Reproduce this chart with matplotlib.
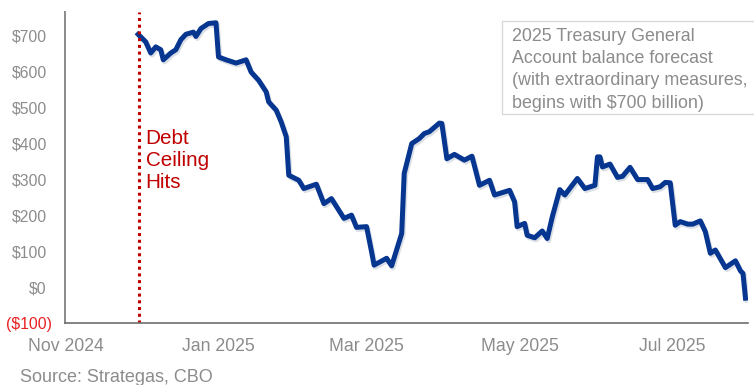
import matplotlib
matplotlib.use("Agg")
from matplotlib import pyplot as plt
from matplotlib.patches import Rectangle
from matplotlib.transforms import ScaledTranslation
import matplotlib.patheffects as pe
import numpy as np

plt.rcParams['font.family'] = ['Liberation Sans', 'DejaVu Sans']

# forecast of TGA balance ($bn)
dates = ["2024-11-30", "2024-12-03", "2024-12-05", "2024-12-07", "2024-12-09",
         "2024-12-10", "2024-12-13", "2024-12-15", "2024-12-17", "2024-12-19",
         "2024-12-22", "2024-12-23", "2024-12-25", "2024-12-28", "2024-12-31",
         "2025-01-01", "2025-01-04", "2025-01-08", "2025-01-12", "2025-01-14",
         "2025-01-17", "2025-01-20", "2025-01-21", "2025-01-24", "2025-01-26",
         "2025-01-28", "2025-01-29", "2025-02-02", "2025-02-04", "2025-02-09",
         "2025-02-12", "2025-02-15", "2025-02-20", "2025-02-23", "2025-02-25",
         "2025-03-01", "2025-03-03", "2025-03-04", "2025-03-09", "2025-03-11",
         "2025-03-15", "2025-03-16", "2025-03-19", "2025-03-22", "2025-03-24",
         "2025-03-26", "2025-03-30", "2025-03-31", "2025-04-02", "2025-04-05",
         "2025-04-09", "2025-04-12", "2025-04-15", "2025-04-19", "2025-04-21",
         "2025-04-27", "2025-04-29", "2025-04-30", "2025-05-03", "2025-05-04",
         "2025-05-07", "2025-05-10", "2025-05-12", "2025-05-14", "2025-05-17",
         "2025-05-19", "2025-05-24", "2025-05-27", "2025-05-31", "2025-06-01",
         "2025-06-02", "2025-06-03", "2025-06-06", "2025-06-09", "2025-06-11",
         "2025-06-14", "2025-06-17", "2025-06-21", "2025-06-23", "2025-06-26",
         "2025-06-28", "2025-06-30", "2025-07-02", "2025-07-04", "2025-07-07",
         "2025-07-09", "2025-07-12", "2025-07-14", "2025-07-16", "2025-07-18",
         "2025-07-22", "2025-07-26", "2025-07-28", "2025-07-29", "2025-07-30"]
balance = [703, 682, 651, 668, 660, 632, 651, 660, 688, 703,
           709, 697, 719, 733, 735, 640, 632, 623, 632, 598,
           575, 543, 515, 492, 459, 418, 311, 297, 274, 286,
           232, 246, 191, 200, 166, 168, 98, 61, 80, 59,
           149, 316, 399, 413, 427, 432, 456, 455, 357, 369,
           353, 364, 283, 297, 256, 269, 237, 168, 177, 144,
           137, 156, 135, 195, 271, 256, 302, 274, 283, 362,
           362, 334, 342, 305, 308, 333, 299, 299, 274, 279,
           291, 290, 172, 182, 175, 175, 184, 154, 94, 103,
           54, 73, 45, 38, -31]

debt_ceiling_date = "2024-11-30T12:00"
yticks = [-100, 0, 100, 200, 300, 400, 500, 600, 700]
ytick_labels = ["($100)", "$0", "$100", "$200", "$300", "$400", "$500", "$600", "$700"]
xtick_dates = ["2024-11-01", "2025-01-01", "2025-03-01", "2025-05-01", "2025-07-01"]
xtick_labels = ["Nov 2024", "Jan 2025", "Mar 2025", "May 2025", "Jul 2025"]


def to_dt(s):
    return np.datetime64(s).astype("datetime64[ms]").astype(object)


x = [to_dt(d) for d in dates]

W, H = 754, 385
fig = plt.figure(figsize=(W / 100, H / 100), dpi=100)
ax = fig.add_axes([65 / W, 1 - 323 / H, (748 - 65) / W, (323 - 12) / H])

gray = "#8c8c8c"
ax.plot(x, balance, color="#06368f", lw=3.6, solid_joinstyle="round",
        path_effects=[pe.SimpleLineShadow(offset=(1, -1.5), shadow_color="#9aa4b8", alpha=0.35),
                      pe.Normal()])

ax.axvline(to_dt(debt_ceiling_date), color="#c00000", ls=(0, (1, 1.2)), lw=2.2)
ax.text(to_dt("2024-12-03"), 352, "Debt\nCeiling\nHits", color="#c00000",
        fontsize=14.9, va="center", ha="left", linespacing=1.2)

ax.set_ylim(-100, 765)
ax.set_xlim(to_dt("2024-10-31T20:00"), to_dt("2025-07-31"))

ax.set_yticks(yticks)
ax.set_yticklabels(ytick_labels)
ax.set_xticks([to_dt(d) for d in xtick_dates])
ax.set_xticklabels(xtick_labels)
ax.tick_params(axis="both", length=0, colors=gray)
ax.tick_params(axis="y", pad=13, labelsize=11.3)
ax.tick_params(axis="x", pad=11, labelsize=12.7)
for lbl in ax.get_yticklabels():
    if lbl.get_text().startswith("("):
        lbl.set_color("#e82020")
        lbl.set_transform(lbl.get_transform() + ScaledTranslation(5 / 100, 0, fig.dpi_scale_trans))

for s in ["top", "right"]:
    ax.spines[s].set_visible(False)
ax.spines["left"].set_color("#8a8a8a")
ax.spines["left"].set_linewidth(1.4)
ax.spines["bottom"].set_color("#6e6e6e")
ax.spines["bottom"].set_linewidth(1.2)

# note box in the top right
fig.patches.append(Rectangle((502 / W, 1 - 114 / H), 260 / W, 93 / H,
                             transform=fig.transFigure, fill=False,
                             edgecolor="#d9d9d9", lw=1.0))
fig.text(512 / W, 1 - 28 / H,
         "2025 Treasury General\nAccount balance forecast\n(with extraordinary measures,\nbegins with $700 billion)",
         color="#8c8c8c", fontsize=12.9, va="top", ha="left", linespacing=1.4)

fig.text(20 / W, 1 - 377 / H, "Source: Strategas, CBO", color=gray,
         fontsize=13, va="center", ha="left")

fig.savefig("out.png", dpi=100)
